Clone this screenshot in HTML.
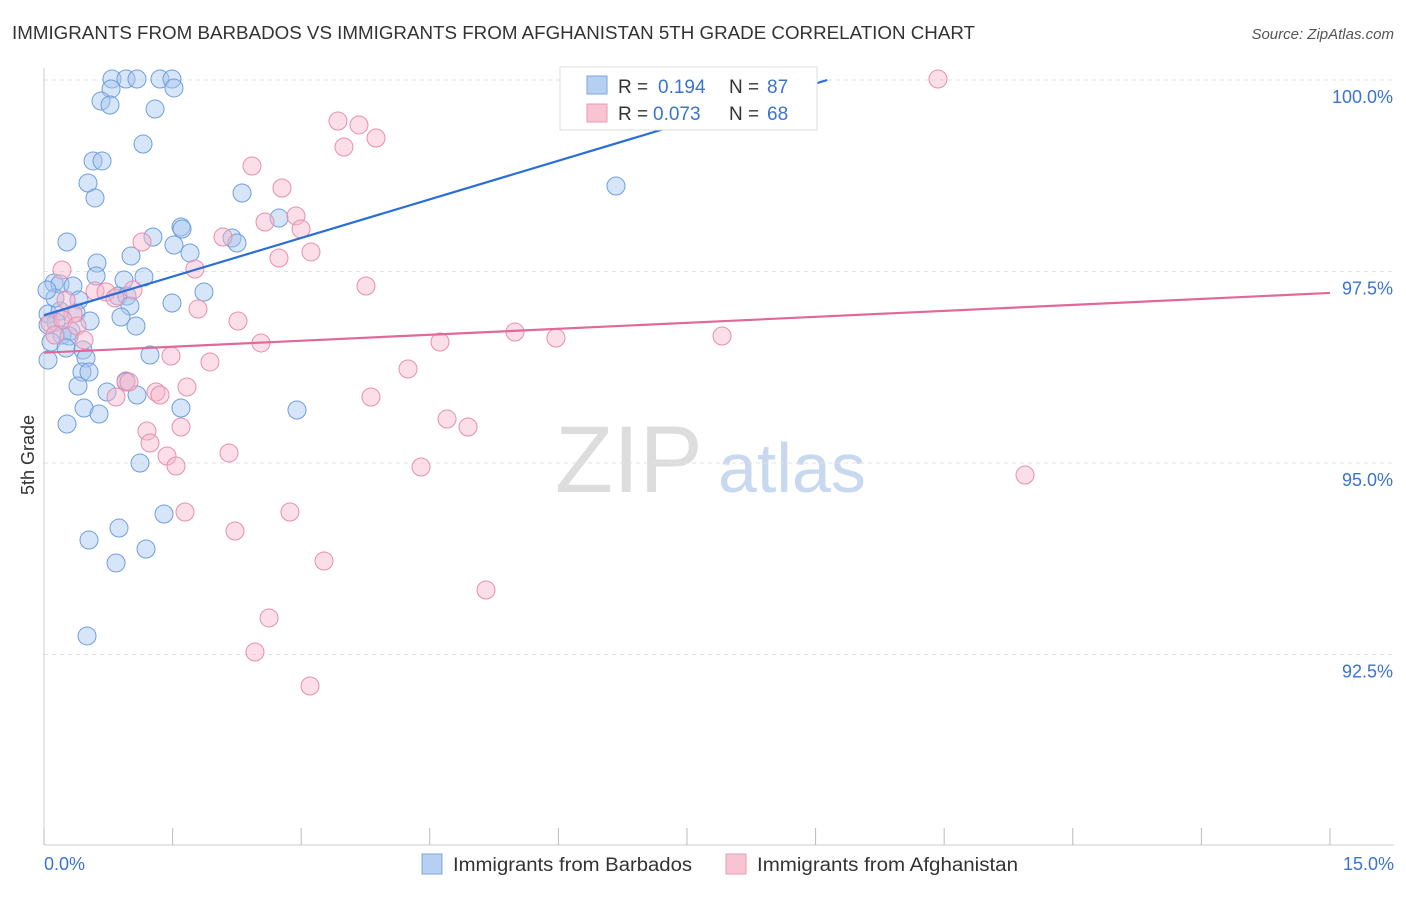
<!DOCTYPE html>
<html><head><meta charset="utf-8"><style>
body{margin:0;background:#fff;font-family:"Liberation Sans",sans-serif;}
svg text{font-family:"Liberation Sans",sans-serif;}
</style></head><body>
<svg id="chart" width="1406" height="892" xmlns="http://www.w3.org/2000/svg">
<text x="12" y="39" font-size="18" fill="#333" textLength="963" lengthAdjust="spacingAndGlyphs">IMMIGRANTS FROM BARBADOS VS IMMIGRANTS FROM AFGHANISTAN 5TH GRADE CORRELATION CHART</text>
<text x="1394" y="39" font-size="15" fill="#555" font-style="italic" text-anchor="end">Source: ZipAtlas.com</text>
<text x="34" y="455" font-size="18" fill="#333" transform="rotate(-90 34 455)" text-anchor="middle">5th Grade</text>
<text x="555" y="492" font-size="95" fill="#ddd" font-family="Liberation Serif">ZIP</text>
<text x="718" y="492" font-size="70" fill="#c8d8ee">atlas</text>
<g id="grid"></g><g id="axes"></g><g id="pts"></g><g id="trends"></g>
<g>
<rect x="560" y="67" width="257" height="63" fill="#fff" stroke="#ddd"/>
<rect x="587" y="76" width="20" height="18" fill="#b6d0f3" stroke="#7aa6e0"/>
<text x="618" y="93" font-size="19" fill="#333">R = </text><text x="658" y="93" font-size="19" fill="#3a74d0">0.194</text>
<text x="729" y="93" font-size="19" fill="#333">N = </text><text x="767" y="93" font-size="19" fill="#3a74d0">87</text>
<rect x="587" y="104" width="20" height="18" fill="#f8c4d4" stroke="#e898b4"/>
<text x="618" y="120" font-size="19" fill="#333">R = </text><text x="653" y="120" font-size="19" fill="#3a74d0">0.073</text>
<text x="729" y="120" font-size="19" fill="#333">N = </text><text x="767" y="120" font-size="19" fill="#3a74d0">68</text>
</g>
<g>
<rect x="422" y="854" width="20" height="20" fill="#b6d0f3" stroke="#7aa6e0"/>
<text x="453" y="871" font-size="19" fill="#333" textLength="239" lengthAdjust="spacingAndGlyphs">Immigrants from Barbados</text>
<rect x="726" y="854" width="20" height="20" fill="#f8c4d4" stroke="#e898b4"/>
<text x="757" y="871" font-size="19" fill="#333" textLength="261" lengthAdjust="spacingAndGlyphs">Immigrants from Afghanistan</text>
</g>
</svg>
<script>
const yTicks=[100,97.5,95,92.5];
const yTickLabels=["100.0%","97.5%","95.0%","92.5%"];
const xTicks=[0,1.5,3,4.5,6,7.5,9,10.5,12,13.5,15];
const xEndLabels=["0.0%","15.0%"];
const blueTrend=[96.93,0.336];
const pinkTrend=[96.44,0.052];
const bluePx=[[112,79],[126,79],[137,79],[160,79],[172,79],[111,89],[174,88],[101,101],[110,105],[155,109],[143,144],[93,161],[102,161],[88,183],[95,198],[616,186],[242,193],[279,218],[181,227],[182,229],[153,237],[67,242],[232,238],[237,243],[174,245],[190,253],[131,256],[97,263],[96,276],[144,277],[124,280],[54,283],[60,284],[73,286],[204,292],[118,296],[127,296],[79,300],[172,303],[130,306],[48,314],[60,311],[76,313],[121,317],[90,321],[136,326],[56,322],[71,331],[62,335],[69,336],[51,342],[66,348],[83,350],[150,355],[86,358],[48,360],[82,372],[89,372],[126,381],[78,386],[107,392],[137,395],[84,408],[99,414],[181,408],[297,410],[67,424],[140,463],[164,514],[119,528],[89,540],[146,549],[116,563],[87,636],[48,325],[55,298],[47,290]];
const pinkPx=[[938,79],[632,79],[338,121],[359,125],[376,138],[344,147],[252,166],[282,188],[296,216],[265,222],[301,229],[223,237],[142,242],[311,252],[279,258],[62,270],[195,269],[366,286],[95,291],[106,292],[133,290],[115,298],[198,309],[238,321],[50,323],[73,314],[63,320],[77,326],[55,335],[515,332],[556,338],[440,342],[722,336],[261,343],[84,340],[171,356],[210,362],[408,369],[126,382],[129,382],[187,387],[116,397],[156,392],[160,395],[371,397],[447,419],[468,427],[147,431],[181,427],[150,443],[167,456],[229,453],[176,466],[421,467],[1025,475],[185,512],[290,512],[235,531],[324,561],[486,590],[269,618],[255,652],[310,686],[66,300]];
const blueX=bluePx.map(p=>+((p[0]-44)/85.73).toFixed(3));
const blueY=bluePx.map(p=>+(100-(p[1]-80)/76.6).toFixed(3));
const pinkX=pinkPx.map(p=>+((p[0]-44)/85.73).toFixed(3));
const pinkY=pinkPx.map(p=>+(100-(p[1]-80)/76.6).toFixed(3));
const NS="http://www.w3.org/2000/svg";
const sx=v=>44+v*85.73, sy=v=>80+(100-v)*76.6;
function mk(tag,attrs,parent){const e=document.createElementNS(NS,tag);for(const k in attrs)e.setAttribute(k,attrs[k]);parent.appendChild(e);return e;}
const grid=document.getElementById('grid'),axes=document.getElementById('axes'),pts=document.getElementById('pts'),tr=document.getElementById('trends');
yTicks.forEach((t,i)=>{
 const l=mk('line',{x1:44,x2:1394,y1:sy(t),y2:sy(t),stroke:'#e2e2e2','stroke-dasharray':'4,4'},grid);
 
 
 const tx=mk('text',{x:1393,y:sy(t)+23,'font-size':18,fill:'#3a74d0','text-anchor':'end'},axes);
 tx.textContent=yTickLabels[i];
 
 
});
const xa=mk('line',{x1:44,x2:1394,y1:845,y2:845,stroke:'#ccc'},axes);


const ya=mk('line',{x1:44,x2:44,y1:68,y2:845,stroke:'#ccc'},axes);


xTicks.forEach(t=>{const l=mk('line',{x1:sx(t),x2:sx(t),y1:828,y2:845,stroke:'#bbb'},axes);
 
 });
const xl0=mk('text',{x:44,y:870,'font-size':18,fill:'#3a74d0'},axes);xl0.textContent=xEndLabels[0];


const xl1=mk('text',{x:1394,y:870,'font-size':18,fill:'#3a74d0','text-anchor':'end'},axes);xl1.textContent=xEndLabels[1];


function dots(X,Y,fill,stroke,name){X.forEach((x,i)=>{const c=mk('circle',{cx:sx(x),cy:sy(Y[i]),r:9,fill:fill,'fill-opacity':0.45,stroke:stroke,'stroke-width':1},pts);
 
 });}
dots(blueX,blueY,'#a6c6f0','#6f9edc','point-barbados');
dots(pinkX,pinkY,'#f6b6ca','#e68fb0','point-afghanistan');
const bxEnd=(100-blueTrend[0])/blueTrend[1];
const bl=mk('line',{x1:sx(0),y1:sy(blueTrend[0]),x2:sx(bxEnd),y2:sy(100),stroke:'#2a6fd6','stroke-width':2.2},tr);


const pl=mk('line',{x1:sx(0),y1:sy(pinkTrend[0]),x2:sx(15),y2:sy(pinkTrend[0]+pinkTrend[1]*15),stroke:'#e0699a','stroke-width':2.2},tr);


</script>
</body></html>
